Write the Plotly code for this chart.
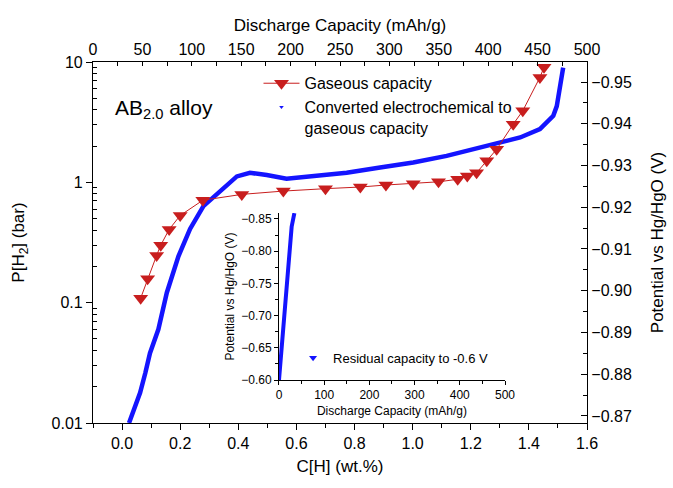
import plotly.graph_objects as go

# Gaseous capacity (PCT) - C[H] wt.% vs P[H2] bar
gas_ch = [0.064, 0.088, 0.119, 0.133, 0.162, 0.200, 0.278, 0.412, 0.555, 0.700, 0.820, 0.908,
          1.002, 1.089, 1.155, 1.188, 1.220, 1.255, 1.289, 1.346, 1.379, 1.438, 1.452]
gas_p = [0.109, 0.158, 0.247, 0.300, 0.406, 0.530, 0.710, 0.794, 0.846, 0.886, 0.914, 0.950,
         0.975, 1.010, 1.060, 1.130, 1.200, 1.510, 1.880, 3.040, 3.930, 7.450, 9.040]

# Converted electrochemical to gaseous capacity
conv_ch = [0.024, 0.045, 0.062, 0.080, 0.096, 0.125, 0.154, 0.194, 0.234, 0.280, 0.349, 0.395,
           0.440, 0.498, 0.566, 0.658, 0.773, 0.888, 1.002, 1.117, 1.232, 1.289, 1.370, 1.438,
           1.460, 1.484, 1.496, 1.503, 1.510, 1.518]
conv_p = [0.010, 0.014, 0.0178, 0.026, 0.038, 0.060, 0.121, 0.243, 0.410, 0.635, 0.900, 1.120,
          1.200, 1.150, 1.070, 1.130, 1.200, 1.330, 1.460, 1.660, 1.950, 2.070, 2.360, 2.770,
          3.100, 3.570, 4.300, 5.300, 6.800, 9.000]

# Inset: residual capacity to -0.6 V
res_cap = [0, 6, 13, 18.4, 23, 28, 34]
res_v = [-0.600, -0.652, -0.700, -0.750, -0.800, -0.838, -0.859]

RED = "#C81E1E"
BLUE = "#1414FF"
FONT = "Arial, Liberation Sans, sans-serif"

fig = go.Figure()

fig.add_trace(go.Scatter(x=conv_ch, y=conv_p, mode="lines", line=dict(color=BLUE, width=4.5),
                         showlegend=False, xaxis="x", yaxis="y"))
fig.add_trace(go.Scatter(x=gas_ch, y=gas_p, mode="lines+markers", name="Gaseous capacity",
                         line=dict(color=RED, width=1),
                         marker=dict(symbol="triangle-down", size=13, color=RED),
                         xaxis="x", yaxis="y", legend="legend"))
fig.add_trace(go.Scatter(x=[None], y=[None], mode="markers",
                         name="Converted electrochemical to<br>gaseous capacity",
                         marker=dict(symbol="triangle-down", size=4, color=BLUE),
                         xaxis="x", yaxis="y", legend="legend"))
# dummy trace to show top & right axes
fig.add_trace(go.Scatter(x=[None], y=[None], xaxis="x2", yaxis="y2", showlegend=False))

# inset
fig.add_trace(go.Scatter(x=res_cap, y=res_v, mode="lines", line=dict(color=BLUE, width=4),
                         showlegend=False, xaxis="x3", yaxis="y3"))
fig.add_trace(go.Scatter(x=[None], y=[None], mode="markers", name="Residual capacity to -0.6 V",
                         marker=dict(symbol="triangle-down", size=7, color=BLUE),
                         xaxis="x3", yaxis="y3", legend="legend2"))

tickfont = dict(family=FONT, size=16, color="black")
titlefont = dict(family=FONT, size=17, color="black")
small = dict(family=FONT, size=12, color="black")

fig.update_layout(
    width=673, height=488,
    margin=dict(l=93, r=86, t=62, b=65, autoexpand=False),
    paper_bgcolor="white", plot_bgcolor="white",
    font=dict(family=FONT, color="black"),
    xaxis=dict(range=[-0.1, 1.6], dtick=0.2, tick0=0, tickformat=".1f", automargin=False,
               showline=True, linecolor="black", linewidth=1.2, mirror=True,
               ticks="outside", ticklen=6, tickcolor="black",
               minor=dict(dtick=0.1, tick0=0, ticks="outside", ticklen=4, tickcolor="black"),
               showgrid=False, zeroline=False, tickfont=tickfont,
               title=dict(text="C[H] (wt.%)", font=titlefont, standoff=8)),
    yaxis=dict(type="log", range=[-2, 1], automargin=False,
               tickvals=[0.01, 0.1, 1, 10], ticktext=["0.01", "0.1", "1", "10"],
               showline=True, linecolor="black", linewidth=1.2, mirror=True,
               ticks="outside", ticklen=6, tickcolor="black",
               minor=dict(tickvals=[m * 10 ** e for e in (-2, -1, 0) for m in range(2, 10)],
                          ticks="inside", ticklen=4, tickcolor="black"),
               showgrid=False, zeroline=False, tickfont=tickfont,
               title=dict(text="P[H<sub>2</sub>] (bar)", font=titlefont, standoff=22)),
    xaxis2=dict(overlaying="x", side="top", range=[0, 500], dtick=50, tick0=0, automargin=False,
                showline=True, linecolor="black", linewidth=1.2,
                ticks="inside", ticklen=4, tickcolor="black",
                minor=dict(dtick=25, tick0=0, ticks="inside", ticklen=4, tickcolor="black"),
                showgrid=False, zeroline=False, tickfont=tickfont,
                title=dict(text="Discharge Capacity (mAh/g)", font=titlefont, standoff=4)),
    yaxis2=dict(overlaying="y", side="right", range=[-0.8683, -0.9548], dtick=0.01, tick0=-0.95,
                tickformat=".2f", automargin=False,
                showline=True, linecolor="black", linewidth=1.2,
                ticks="inside", ticklen=6, tickcolor="black",
                minor=dict(dtick=0.005, tick0=-0.95, ticks="inside", ticklen=4, tickcolor="black"),
                showgrid=False, zeroline=False, tickfont=tickfont,
                title=dict(text="Potential vs Hg/HgO (V)", font=titlefont, standoff=20)),
    xaxis3=dict(domain=[0.3765, 0.834], anchor="y3", range=[0, 500], dtick=100, tick0=0,
                showline=True, linecolor="black", linewidth=1,
                ticks="outside", ticklen=4, tickcolor="black",
                minor=dict(dtick=50, tick0=0, ticks="outside", ticklen=3, tickcolor="black"),
                showgrid=False, zeroline=False, tickfont=small,
                title=dict(text="Discharge Capacity (mAh/g)", font=small, standoff=5)),
    yaxis3=dict(domain=[0.119, 0.5817], anchor="x3", range=[-0.6, -0.8593], dtick=0.05, tick0=-0.6,
                tickformat=".2f",
                showline=True, linecolor="black", linewidth=1,
                ticks="outside", ticklen=4, tickcolor="black",
                minor=dict(dtick=0.025, tick0=-0.6, ticks="outside", ticklen=3, tickcolor="black"),
                showgrid=False, zeroline=False, tickfont=small,
                title=dict(text="Potential vs Hg/HgO (V)", font=small, standoff=4)),
    legend=dict(x=0.335, y=0.988, xanchor="left", yanchor="top", bgcolor="rgba(0,0,0,0)",
                font=dict(family=FONT, size=16, color="black"), valign="top",
                tracegroupgap=0, itemsizing="trace", itemwidth=36),
    legend2=dict(x=0.405, y=0.222, xanchor="left", yanchor="top", bgcolor="rgba(0,0,0,0)",
                 font=dict(family=FONT, size=13, color="black")),
    annotations=[dict(text="AB<sub>2.0</sub> alloy", xref="paper", yref="paper",
                      x=0.04, y=0.87, xanchor="left", yanchor="middle", showarrow=False,
                      font=dict(family=FONT, size=21, color="black"))],
)

fig.write_html("out.html", config={"displayModeBar": False},
               post_script="document.body.style.margin='0';document.body.style.overflow='hidden';")
